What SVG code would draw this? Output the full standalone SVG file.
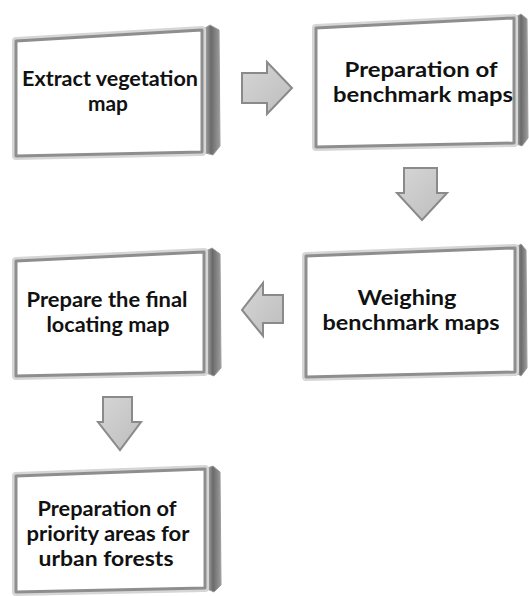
<svg xmlns="http://www.w3.org/2000/svg" width="529" height="596" viewBox="0 0 529 596">
<style>
.halo{fill:none;stroke:#d6d6d6;stroke-width:8;stroke-linejoin:round}
.face{fill:#ffffff;stroke:#8e8e8e;stroke-width:3;stroke-linejoin:round}
.side{fill:url(#sideG);stroke:#9a9a9a;stroke-width:1;stroke-linejoin:round}
.lbl{font-family:Lato,"Liberation Sans",sans-serif;font-weight:bold;font-size:21.5px;fill:#111;text-anchor:middle}
.arr{fill:url(#arrG);stroke:#8a8a8a;stroke-width:2;stroke-linejoin:miter}
</style>
<defs>
<linearGradient id="sideG" x1="0" y1="0" x2="1" y2="0">
<stop offset="0" stop-color="#c4c4c4"/>
<stop offset="0.5" stop-color="#6a6a6a"/>
<stop offset="1" stop-color="#9c9c9c"/>
</linearGradient>
<linearGradient id="arrG" x1="0" y1="0" x2="1" y2="1">
<stop offset="0" stop-color="#d6d6d6"/>
<stop offset="1" stop-color="#bdbdbd"/>
</linearGradient>
<filter id="soft" x="-5%" y="-5%" width="110%" height="110%">
<feGaussianBlur stdDeviation="0.6"/>
</filter>
</defs>
<rect width="529" height="596" fill="#ffffff"/>

<g id="connectors">
<polygon class="arr" points="242,73 267,73 267,62 292,88 267,114 267,103 242,103"/>
<polygon class="arr" points="404,168 437,168 437,193 447,193 422,220 397,193 404,193"/>
<polygon class="arr" points="283,295 263,295 263,283 242,310 263,336 263,323 283,323"/>
<polygon class="arr" points="103,397 132,397 132,422 141,422 120,450 98,422 103,422"/>
</g>

<g id="n1">
<g filter="url(#soft)">
<polygon class="side" points="202,30 210,25 219,30 220,146 213,155 202,152"/>
<polygon class="halo" points="16,41 202,30 202,152 16,156"/>
<polygon class="face" points="16,41 202,30 202,152 16,156"/>
</g>
<text class="lbl" x="110" y="86" textLength="176" lengthAdjust="spacingAndGlyphs">Extract vegetation</text>
<text class="lbl" x="108" y="111" textLength="40" lengthAdjust="spacingAndGlyphs">map</text>
</g>

<g id="n2">
<g filter="url(#soft)">
<polygon class="side" points="514,18 521,14 527,19 528,138 522,146 514,143"/>
<polygon class="halo" points="316,28 514,18 514,143 316,147"/>
<polygon class="face" points="316,28 514,18 514,143 316,147"/>
</g>
<text class="lbl" x="421" y="77" textLength="153" lengthAdjust="spacingAndGlyphs">Preparation of</text>
<text class="lbl" x="423" y="102" textLength="180" lengthAdjust="spacingAndGlyphs">benchmark maps</text>
</g>

<g id="n3">
<g filter="url(#soft)">
<polygon class="side" points="515,248 521,244 526,250 527,368 521,376 515,372"/>
<polygon class="halo" points="306,256 515,248 515,372 306,377"/>
<polygon class="face" points="306,256 515,248 515,372 306,377"/>
</g>
<text class="lbl" x="407" y="305" textLength="99" lengthAdjust="spacingAndGlyphs">Weighing</text>
<text class="lbl" x="411" y="330" textLength="177" lengthAdjust="spacingAndGlyphs">benchmark maps</text>
</g>

<g id="n4">
<g filter="url(#soft)">
<polygon class="side" points="204,252 212,248 220,254 221,368 214,376 204,372"/>
<polygon class="halo" points="16,261 204,252 204,372 16,376"/>
<polygon class="face" points="16,261 204,252 204,372 16,376"/>
</g>
<text class="lbl" x="107" y="307" textLength="161" lengthAdjust="spacingAndGlyphs">Prepare the final</text>
<text class="lbl" x="108" y="332" textLength="123" lengthAdjust="spacingAndGlyphs">locating map</text>
</g>

<g id="n5">
<g filter="url(#soft)">
<polygon class="side" points="205,469 213,466 220,472 221,585 214,592 205,588"/>
<polygon class="halo" points="16,476 205,469 205,588 16,592"/>
<polygon class="face" points="16,476 205,469 205,588 16,592"/>
</g>
<text class="lbl" x="107" y="516" textLength="139" lengthAdjust="spacingAndGlyphs">Preparation of</text>
<text class="lbl" x="108" y="541" textLength="163" lengthAdjust="spacingAndGlyphs">priority areas for</text>
<text class="lbl" x="106" y="566" textLength="135" lengthAdjust="spacingAndGlyphs">urban forests</text>
</g>
</svg>
